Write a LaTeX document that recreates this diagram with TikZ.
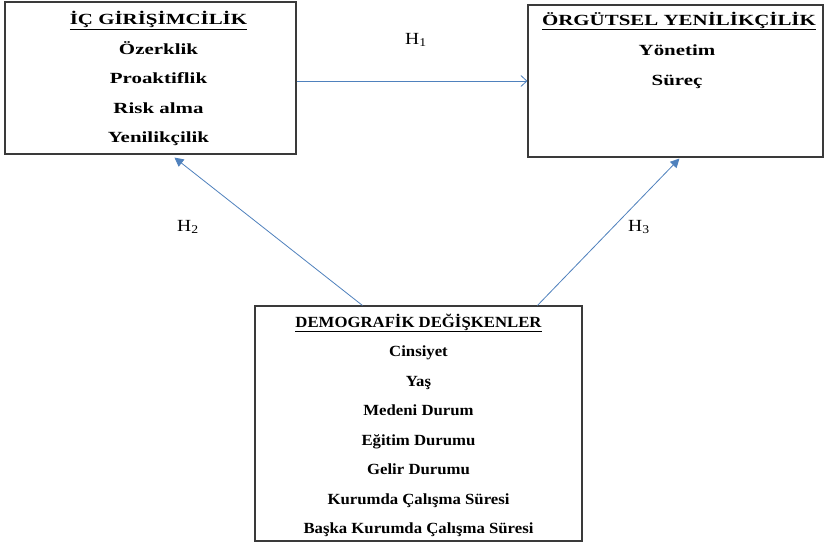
\documentclass[tikz,border=0pt]{standalone}
\usepackage{fontspec}
\usepackage{graphicx}
\setmainfont{Liberation Serif}
\usetikzlibrary{arrows.meta}
\definecolor{arrowblue}{HTML}{4F81BD}
\definecolor{boxgray}{HTML}{3A3A3A}
\newcommand\wide[1]{\scalebox{1.35}[1]{#1}}
\newcommand\midwide[1]{\scalebox{1.08}[1]{#1}}
\newcommand\hwide[1]{\scalebox{1.15}[1]{#1}}
\tikzset{
  boxframe/.style={draw=boxgray, line width=1.1pt, rectangle, inner sep=0pt},
  itemtxt/.style={anchor=base, inner sep=0pt, font=\fontsize{15.5}{17}\selectfont\bfseries},
  hlabel/.style={anchor=base west, inner sep=0pt, font=\fontsize{17}{19}\selectfont},
  openarrow/.style={draw=arrowblue, line width=0.8pt, -{Straight Barb[length=6pt,width=11pt,line width=0.8pt]}},
  fillarrow/.style={draw=arrowblue, line width=0.8pt, -{Triangle[length=9pt,width=9pt]}},
}
\begin{document}
\begin{tikzpicture}[x=1pt,y=-1pt]
\useasboundingbox (0,0) rectangle (825,544);
\fill[white] (0,0) rectangle (825,544);
% boxes
\node[boxframe, minimum width=291pt, minimum height=152pt] (box1) at (150.5,78) {};
\node[boxframe, minimum width=295pt, minimum height=152pt] (box2) at (675.5,81) {};
\node[boxframe, minimum width=327pt, minimum height=235pt] (box3) at (418.5,423.5) {};
% box 1 texts
\node[itemtxt] (t1) at (158.5,24.5) {\wide{\underline{İÇ GİRİŞİMCİLİK}}};
\node[itemtxt] (a1) at (158.5,54) {\wide{Özerklik}};
\node[itemtxt] (a2) at (158.5,83.5) {\wide{Proaktiflik}};
\node[itemtxt] (a3) at (158.5,113) {\wide{Risk alma}};
\node[itemtxt] (a4) at (158.5,142.5) {\wide{Yenilikçilik}};
% box 2 texts
\node[itemtxt] (t2) at (679,25) {\wide{\underline{ÖRGÜTSEL YENİLİKÇİLİK}}};
\node[itemtxt] (b1) at (677,55.5) {\wide{Yönetim}};
\node[itemtxt] (b2) at (677,85.5) {\wide{Süreç}};
% box 3 texts
\node[itemtxt] (t3) at (418.5,327) {\midwide{\underline{DEMOGRAFİK DEĞİŞKENLER}}};
\node[itemtxt] (c1) at (418.5,356.5) {\midwide{Cinsiyet}};
\node[itemtxt] (c2) at (418.5,386) {\midwide{Yaş}};
\node[itemtxt] (c3) at (418.5,415.5) {\midwide{Medeni Durum}};
\node[itemtxt] (c4) at (418.5,445) {\midwide{Eğitim Durumu}};
\node[itemtxt] (c5) at (418.5,474.5) {\midwide{Gelir Durumu}};
\node[itemtxt] (c6) at (418.5,504) {\midwide{Kurumda Çalışma Süresi}};
\node[itemtxt] (c7) at (418.5,533.5) {\midwide{Başka Kurumda Çalışma Süresi}};
% connectors
\draw[openarrow] (box1.east |- box2.west) -- (box2.west);
\draw[fillarrow] ([xshift=108pt]box3.north west) -- ([xshift=170pt,yshift=-3pt]box1.south west);
\draw[fillarrow] ([xshift=283pt]box3.north west) -- ([xshift=152pt,yshift=-1pt]box2.south west);
% labels
\node[hlabel] (h1) at (405,44) {\hwide{H\textsubscript{1}}};
\node[hlabel] (h2) at (177,231) {\hwide{H\textsubscript{2}}};
\node[hlabel] (h3) at (628,231) {\hwide{H\textsubscript{3}}};
\end{tikzpicture}
\end{document}
